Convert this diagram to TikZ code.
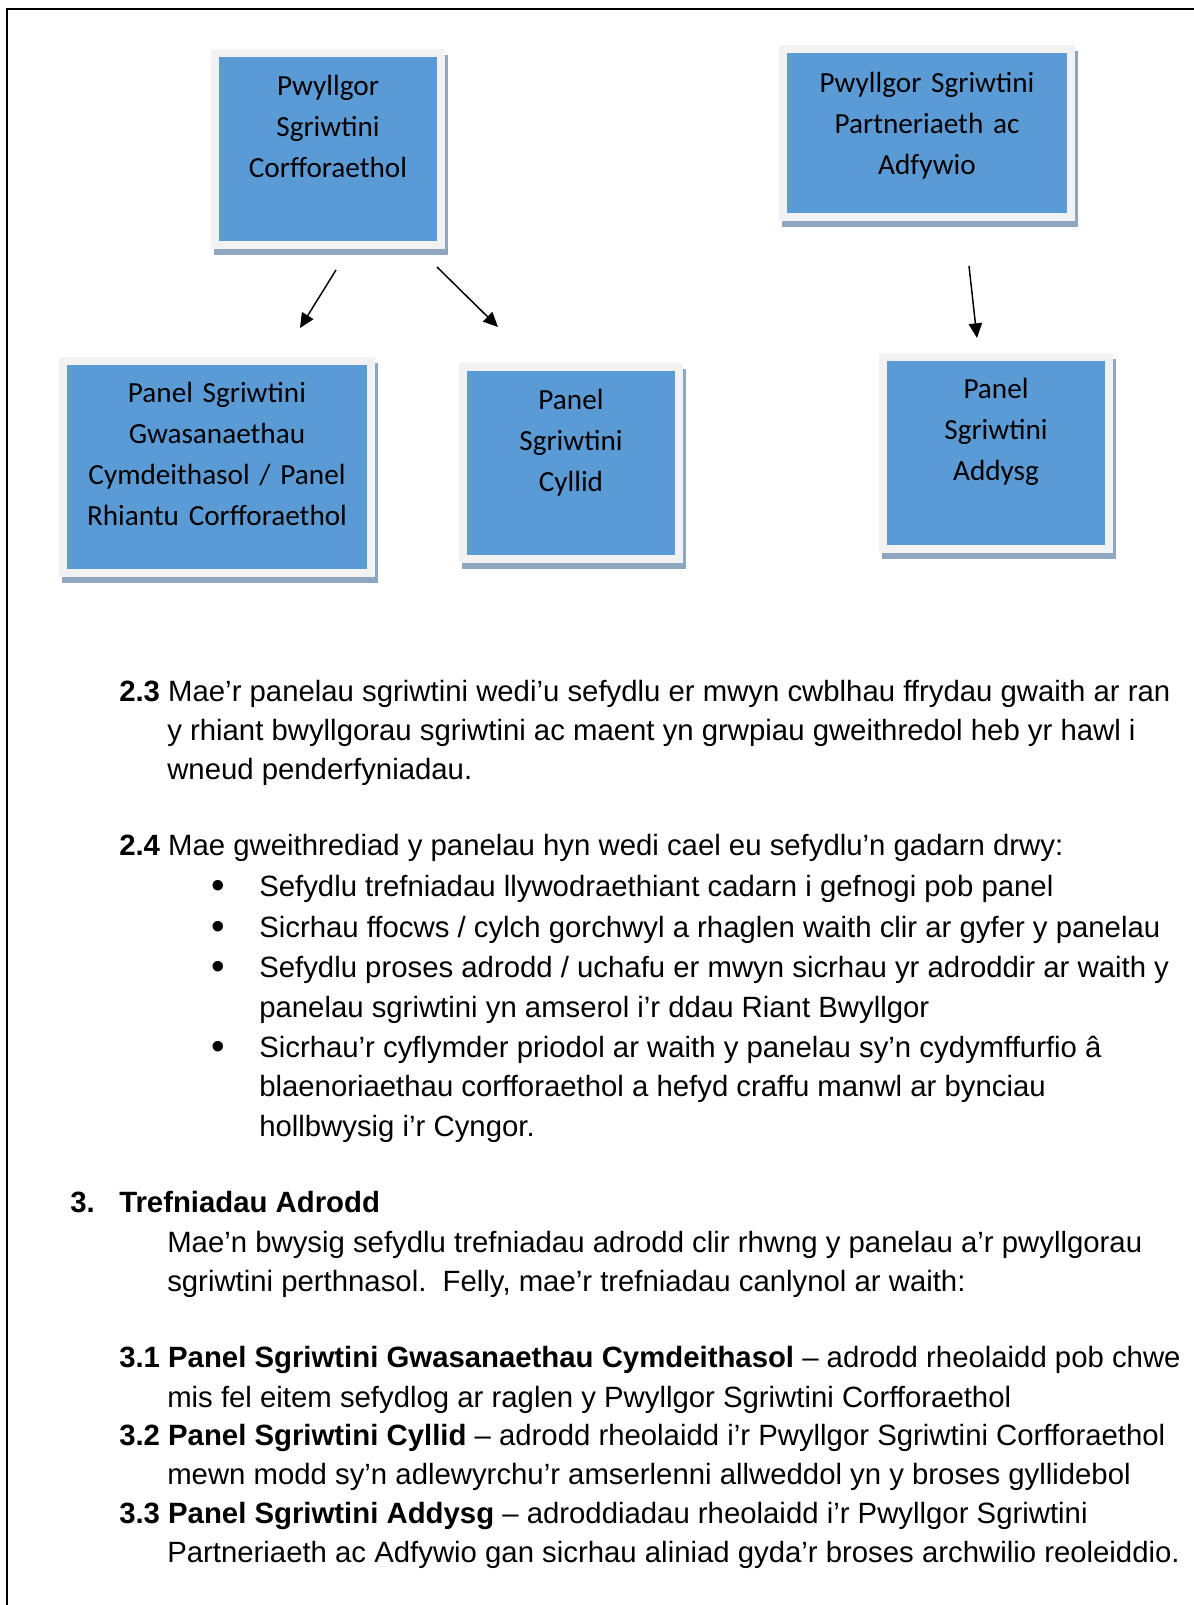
\documentclass[tikz,border=0pt]{standalone}
\usepackage{fontspec}
\setmainfont{Liberation Sans}
\newfontfamily\boxfont{Carlito}
\usetikzlibrary{arrows.meta,backgrounds}
\definecolor{boxblue}{HTML}{5B9BD5}
\definecolor{framegray}{HTML}{F2F2F2}
\definecolor{shadowcol}{HTML}{8FA6C0}
\tikzset{
  bluebox/.style={rectangle, fill=boxblue, draw=none, inner sep=0pt},
  boxtext/.style={anchor=base, text width=240pt, align=center, inner sep=0pt,
    font=\boxfont\fontsize{21.9}{30.75}\selectfont},
  bodytext/.style={anchor=base west, inner sep=0pt, font=\fontsize{22}{29.2}\selectfont},
  bullettext/.style={anchor=center, inner sep=0pt, font=\fontsize{29}{30}\selectfont},
  conn/.style={line width=1.1pt, -{Triangle[length=11pt,width=10pt]}},
}
\begin{document}
\begin{tikzpicture}[x=0.75pt,y=-0.75pt]
\useasboundingbox (0,0) rectangle (1194,1605);
% page frame
\draw[line width=1.5pt] (7,1605) -- (7,9) -- (1194,9);

% boxes
\node[bluebox, minimum width=163.5pt, minimum height=138pt] (b1) at (328,149) {};
\node[bluebox, minimum width=210pt, minimum height=120pt] (b2) at (927,133) {};
\node[bluebox, minimum width=225pt, minimum height=153pt] (b3) at (217,467) {};
\node[bluebox, minimum width=156pt, minimum height=138pt] (b4) at (571,463) {};
\node[bluebox, minimum width=163.5pt, minimum height=138pt] (b5) at (996,453) {};

\begin{scope}[on background layer]
\foreach \n in {b1,b2,b3,b4,b5}{
  \fill[shadowcol] ([shift={(-5,-2)}]\n.north west) rectangle ([shift={(11,14)}]\n.south east);
  \fill[framegray] ([shift={(-8,-8)}]\n.north west) rectangle ([shift={(8,8)}]\n.south east);
}
\end{scope}

\node[boxtext] (t1) at (328,96) {Pwyllgor\\Sgriwtini\\Corfforaethol};
\node[boxtext] (t2) at (927,93) {Pwyllgor Sgriwtini\\Partneriaeth ac\\Adfywio};
\node[boxtext] (t3) at (217,402) {Panel Sgriwtini\\Gwasanaethau\\Cymdeithasol / Panel\\Rhiantu Corfforaethol};
\node[boxtext] (t4) at (571,409) {Panel\\Sgriwtini\\Cyllid};
\node[boxtext] (t5) at (996,398) {Panel\\Sgriwtini\\Addysg};

% arrows
\coordinate (a1s) at (336,270); \coordinate (a1e) at (300,328);
\coordinate (a2s) at (437,267); \coordinate (a2e) at (498,327);
\coordinate (a3s) at (969,266); \coordinate (a3e) at (977,338);
\draw[conn] (a1s) -- (a1e);
\draw[conn] (a2s) -- (a2e);
\draw[conn] (a3s) -- (a3e);

% body text
\begin{scope}[shift={(0,2.5)}]
\node[bodytext] (l1) at (119,699) {\textbf{2.3} Mae’r panelau sgriwtini wedi’u sefydlu er mwyn cwblhau ffrydau gwaith ar ran};
\node[bodytext] (l2) at (167,738) {y rhiant bwyllgorau sgriwtini ac maent yn grwpiau gweithredol heb yr hawl i};
\node[bodytext] (l3) at (167,777) {wneud penderfyniadau.};
\node[bodytext] (l4) at (119,853) {\textbf{2.4} Mae gweithrediad y panelau hyn wedi cael eu sefydlu’n gadarn drwy:};
\node[bullettext] (u1) at (218,886.5) {•};
\node[bullettext] (u2) at (218,927.5) {•};
\node[bullettext] (u3) at (218,967.5) {•};
\node[bullettext] (u4) at (218,1047.5) {•};
\node[bodytext] (l5) at (259,894) {Sefydlu trefniadau llywodraethiant cadarn i gefnogi pob panel};
\node[bodytext] (l6) at (259,935) {Sicrhau ffocws / cylch gorchwyl a rhaglen waith clir ar gyfer y panelau};
\node[bodytext] (l7) at (259,975) {Sefydlu proses adrodd / uchafu er mwyn sicrhau yr adroddir ar waith y};
\node[bodytext] (l8) at (259,1015) {panelau sgriwtini yn amserol i’r ddau Riant Bwyllgor};
\node[bodytext] (l9) at (259,1055) {Sicrhau’r cyflymder priodol ar waith y panelau sy’n cydymffurfio â};
\node[bodytext] (l10) at (259,1094) {blaenoriaethau corfforaethol a hefyd craffu manwl ar bynciau};
\node[bodytext] (l11) at (259,1134) {hollbwysig i’r Cyngor.};
\node[bodytext] (h3n) at (70,1210) {\textbf{3.}};
\node[bodytext] (h3) at (119,1210) {\textbf{Trefniadau Adrodd}};
\node[bodytext] (l12) at (167,1250) {Mae’n bwysig sefydlu trefniadau adrodd clir rhwng y panelau a’r pwyllgorau};
\node[bodytext] (l13) at (167,1289) {sgriwtini perthnasol.\ \ Felly, mae’r trefniadau canlynol ar waith:};
\node[bodytext] (l14) at (119,1365) {\textbf{3.1 Panel Sgriwtini Gwasanaethau Cymdeithasol} – adrodd rheolaidd pob chwe};
\node[bodytext] (l15) at (167,1405) {mis fel eitem sefydlog ar raglen y Pwyllgor Sgriwtini Corfforaethol};
\node[bodytext] (l16) at (119,1443) {\textbf{3.2 Panel Sgriwtini Cyllid} – adrodd rheolaidd i’r Pwyllgor Sgriwtini Corfforaethol};
\node[bodytext] (l17) at (167,1482) {mewn modd sy’n adlewyrchu’r amserlenni allweddol yn y broses gyllidebol};
\node[bodytext] (l18) at (119,1521) {\textbf{3.3 Panel Sgriwtini Addysg} – adroddiadau rheolaidd i’r Pwyllgor Sgriwtini};
\node[bodytext] (l19) at (167,1560) {Partneriaeth ac Adfywio gan sicrhau aliniad gyda’r broses archwilio reoleiddio.};
\end{scope}
\end{tikzpicture}
\end{document}
